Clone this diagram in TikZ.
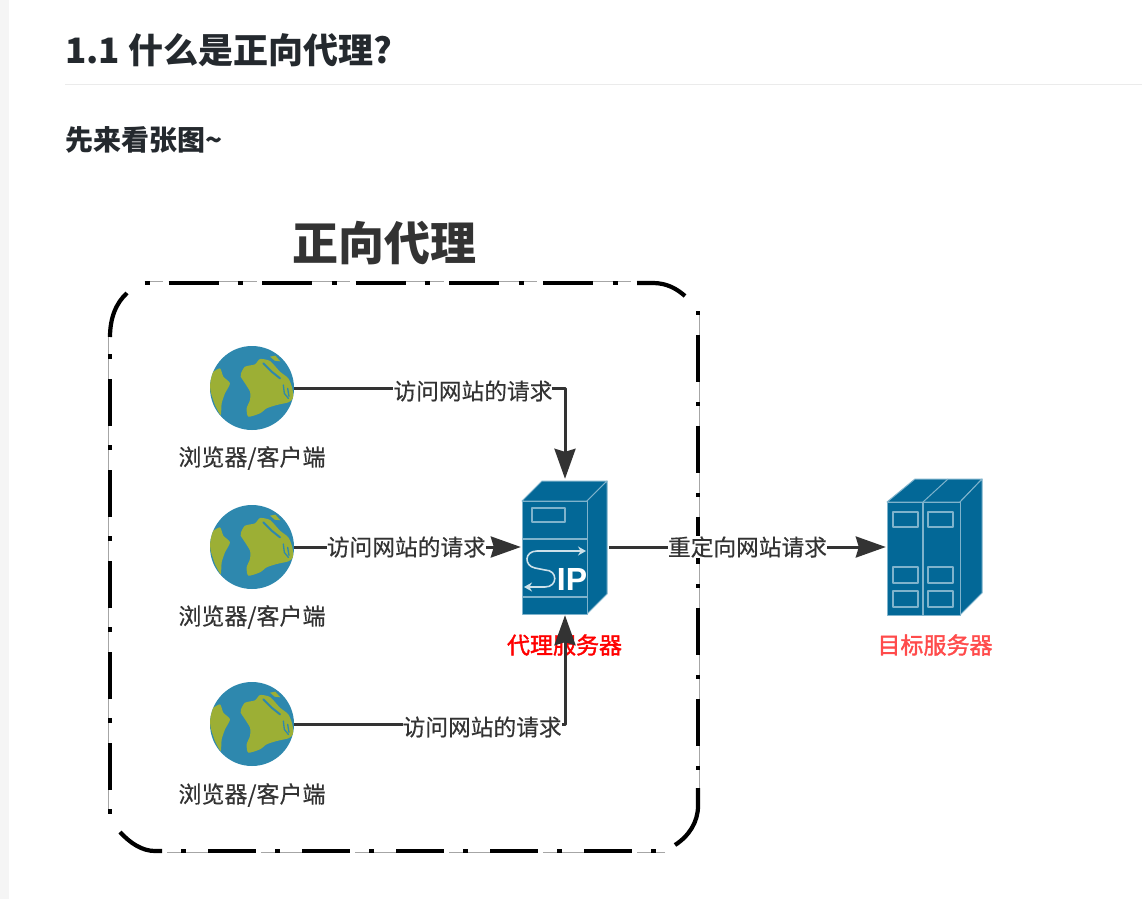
\documentclass[tikz,border=0pt]{standalone}
\usepackage{xcolor}
\usepackage{fontspec}
\setmainfont{Noto Sans CJK SC}
\newfontfamily\iconfont{Liberation Sans}
\newfontfamily\labelfont[FakeBold=0.35]{Noto Sans CJK SC}
\newfontfamily\redfont[FakeBold=1.6]{Noto Sans CJK SC}
\usetikzlibrary{positioning,arrows.meta}
\definecolor{inkgray}{HTML}{333333}
\definecolor{headink}{HTML}{24292E}
\definecolor{serverblue}{HTML}{036897}
\definecolor{serverline}{HTML}{7FB3CC}
\definecolor{seablue}{HTML}{2E88AE}
\definecolor{landgreen}{HTML}{9CAF35}
\definecolor{softred}{HTML}{FF4B4B}

\begin{document}
\begin{tikzpicture}[
	x=1pt, y=-1pt,
	line join=round,
	heading/.style={inner sep=0, anchor=west, text=headink, font=\bfseries\fontsize{35}{40}\selectfont},
	subheading/.style={inner sep=0, anchor=west, text=headink, font=\bfseries\fontsize{28}{32}\selectfont},
	bigtitle/.style={inner sep=0, text=inkgray, font=\bfseries\fontsize{46}{52}\selectfont},
	caption/.style={inner sep=0, text=inkgray, font=\labelfont\fontsize{23}{27}\selectfont},
	redcaption/.style={inner sep=0, text=red, font=\redfont\fontsize{23}{27}\selectfont},
	linklabel/.style={fill=white, inner sep=0, text=inkgray, font=\labelfont\fontsize{22.7}{27}\selectfont},
	link/.style={draw=inkgray, line width=3pt, -{Stealth[length=30pt,width=21pt,inset=3pt]}},
	face/.style={fill=serverblue, draw=serverline, line width=1pt},
	slot/.style={draw=serverline, line width=1.3pt},
	framethick/.style={draw=black, line width=4.2pt},
	framethin/.style={draw=black!35, line width=1pt},
	anchorbox/.style={inner sep=0, minimum width=88pt, minimum height=136pt},
	globe/.style={circle, inner sep=0, minimum size=84pt, fill=seablue, path picture={
		\begin{scope}[shift={(path picture bounding box.center)}, x=0.3333pt, y=-0.3333pt]
			\fill[landgreen] plot[smooth cycle, tension=0.4] coordinates {(-33,-44) (-21,-64) (9,-71) (24,-87) (54,-81) (84,-49) (109,-29) (121,1)
				(123,31) (109,43) (74,51) (44,61) (24,76) (-11,86) (-16,61) (-6,36) (-6,11) (-21,-14) (-34,-34)};
			\fill[landgreen] plot[smooth cycle, tension=0.4] coordinates {(-121,-44) (-96,-59) (-86,-34) (-66,-14) (-81,16) (-91,46) (-94,81) (-111,51) (-124,11) (-126,-19)};
			\fill[landgreen] (54,-94) -- (70,-97) -- (85,-80) -- (68,-82) -- cycle;
			\draw[seablue, line width=2pt, line cap=round] (34,-74) -- (59,-49) -- (84,-29);
			\draw[seablue, line width=1.3pt, line cap=round] (94,-9) -- (97,16) -- (109,31);
			\draw[seablue, line width=1.3pt, line cap=round] (107,1) -- (111,25);
		\end{scope}}}
	]

	\useasboundingbox (0,0) rectangle (1142,899);
	\fill[white] (0,0) rectangle (1142,899);
	\fill[black!4] (0,0) rectangle (9,899);

	%==================== 标题 ====================
	\node[heading] (head) at (65,50) {1.1 什么是正向代理?};
	\node[subheading] (subhead) at (65,140) {先来看张图\textasciitilde};
	\draw[black!8, line width=1pt] (65,84) -- (1142,84);
	\node[bigtitle] (title) at (384.5,243) {正向代理};

	%==================== 虚线框 ====================
	\draw[framethin, dash pattern=on 18pt off 6.6pt on 69pt off 0pt] (145,281.5) -- (645,281.5);
	\draw[framethin] (699.5,315) -- (699.5,806);
	\draw[framethin, dash pattern=on 28pt off 6pt on 60pt off 0pt] (665,852.5) -- (162,852.5);
	\draw[framethin] (108.5,811) -- (108.5,337);
	\draw[framethick, dash pattern=on 5pt off 19pt on 50pt off 19.6pt] (144.5,283) -- (637,283);
	\draw[framethick, dash pattern=on 4pt off 20pt on 47pt off 20pt] (698,311) -- (698,788);
	\draw[framethick, dash pattern=on 5pt off 19pt on 48pt off 22pt] (655.5,851) -- (162,851);
	\draw[framethick, dash pattern=on 5pt off 19pt on 47pt off 20pt] (110,813.5) -- (110,337);
	\draw[framethick] (637,283) -- (653,283) .. controls (667,283) and (677,289) .. (685,296);
	\draw[framethick] (698,788) -- (698,806) .. controls (698,822) and (689,836) .. (675,845);
	\draw[framethick] (162,851) -- (155,851) .. controls (142,851) and (130,843) .. (120,832);
	\draw[framethick] (110,337) .. controls (110,318) and (116,303) .. (127,293);

	%==================== 客户端 ====================
	\node[globe] (client1) at (252,388) {};
	\node[globe] (client2) at (252,547) {};
	\node[globe] (client3) at (252,724) {};
	\node[caption] (clientname1) at (252,458) {浏览器/客户端};
	\node[caption] (clientname2) at (252,617) {浏览器/客户端};
	\node[caption] (clientname3) at (252,795) {浏览器/客户端};

	%==================== 代理服务器 ====================
	\node[anchorbox] (proxy) at (565,547) {};
	\draw[face] (522,501) -- (542,481) -- (607,481) -- (587,501) -- cycle;
	\draw[face] (587,501) -- (607,481) -- (607,594) -- (587,614) -- cycle;
	\draw[face] (522,501) rectangle (587,614);
	\draw[slot] (532,508) rectangle (565,522);
	\draw[slot] (522,539) -- (587,539);
	\draw[slot] (522,597) -- (587,597);
	\draw[white!80!serverblue, line width=1.6pt, {Stealth[length=8pt,width=9pt]}-{Stealth[length=8pt,width=9pt]}]
		(524,587) -- (545,587) .. controls (558,587) and (558,570) .. (545,570)
		-- (535,568) .. controls (524,566) and (524,551) .. (537,551) -- (586,551);
	\node[inner sep=0, text=white, font=\iconfont\bfseries\fontsize{32}{32}\selectfont] (proxyip) at (572,579) {IP};
	\node[redcaption] (proxyname) at (564.5,645) {代理服务器};

	%==================== 目标服务器 ====================
	\node[anchorbox, minimum width=96pt] (target) at (934,547) {};
	\draw[face] (887,502) -- (915,479) -- (982,479) -- (960,502) -- cycle;
	\draw[face] (960,502) -- (982,479) -- (982,593) -- (960,615) -- cycle;
	\draw[face] (887,502) rectangle (960,615);
	\draw[slot] (923,502) -- (923,615);
	\draw[slot, line width=1pt] (923,502) -- (948,479);
	\foreach \slotx in {893,928}
		\foreach \sloty/\slotend in {512/527,567/583,591/607}
			\draw[slot] (\slotx,\sloty) rectangle (\slotx+25,\slotend);
	\node[redcaption, text=softred] (targetname) at (935,645) {目标服务器};

	%==================== 连线 ====================
	\draw[link] (client1.east) -| node[linklabel, pos=0.33, yshift=-3pt] {访问网站的请求} (proxy.north);
	\draw[link] (client2.east) -- node[linklabel, pos=0.495] {访问网站的请求} (proxy.west);
	\draw[link] (client3.east) -| node[linklabel, pos=0.347, yshift=-3pt] {访问网站的请求} (proxy.south);
	\draw[link] (proxy.east) -- node[linklabel, pos=0.5] {重定向网站请求} (target.west);

\end{tikzpicture}
\end{document}
